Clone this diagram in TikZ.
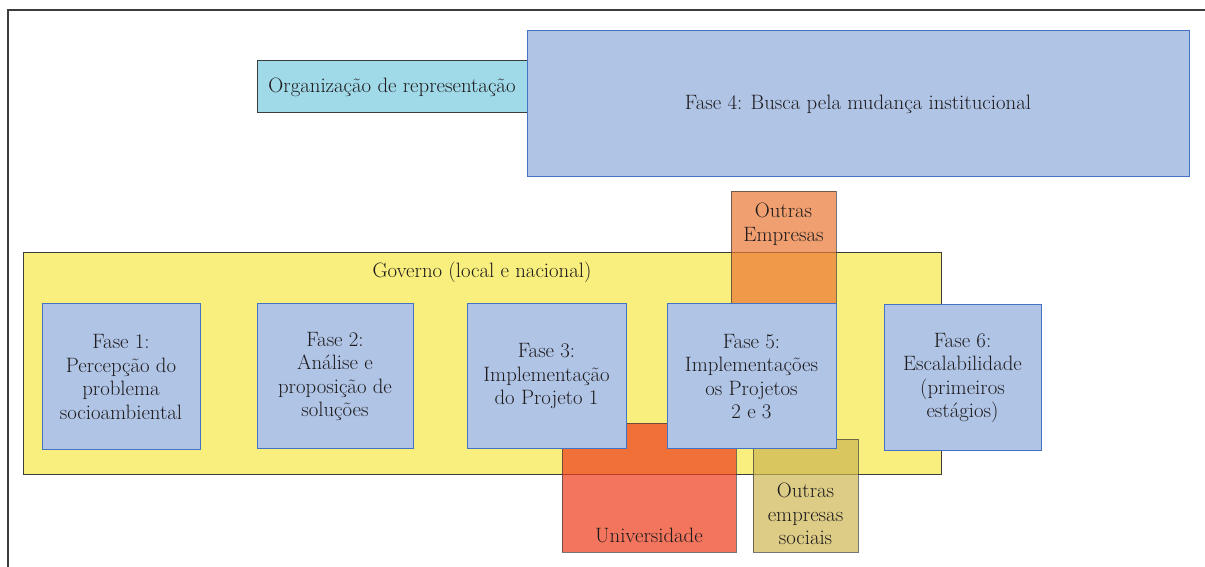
\documentclass[tikz,border=0pt]{standalone}
\definecolor{frameline}{RGB}{60,60,60}
\definecolor{inktext}{RGB}{30,27,28}
\definecolor{phasefill}{RGB}{176,196,230}
\definecolor{phaseline}{RGB}{68,114,196}
\definecolor{govfill}{RGB}{249,239,126}
\definecolor{repfill}{RGB}{160,218,232}
\definecolor{empfill}{RGB}{234,119,51}
\definecolor{unifill}{RGB}{238,59,25}
\definecolor{socfill}{RGB}{205,182,82}
\tikzset{
  base/.style={rectangle, inner sep=0pt, outer sep=0pt, line width=0.9pt,
    text=inktext, align=center, font=\fontsize{20.8}{23.5}\selectfont},
  phase/.style={base, fill=phasefill, draw=phaseline},
  govbox/.style={base, fill=govfill, draw=frameline},
  repbox/.style={base, fill=repfill, draw=frameline},
  actor/.style={base, draw=frameline, fill opacity=0.7, draw opacity=0.7},
  label/.style={base, draw=none, fill=none},
  frame/.style={line width=1.3pt, draw=frameline}
}
\begin{document}
\begin{tikzpicture}[x=1pt, y=-1pt]
\useasboundingbox (0,0) rectangle (1205,567);

% outer frame: top and left edges
\coordinate (fTL) at (8,10);
\coordinate (fTR) at (1205,10);
\coordinate (fBL) at (8,567);
\draw[frame] (fTR) -- (fTL) -- (fBL);

% representation body and phase 4
\node[repbox, minimum width=270, minimum height=52] (rep) at (392,86) {};
\node[label] (rept) at (392,87) {Organização de representação};
\node[phase, minimum width=662, minimum height=146] (f4) at (858,103) {};
\node[label] (f4t) at (858,104) {Fase 4: Busca pela mudança institucional};

% government frame
\node[govbox, minimum width=918, minimum height=222] (gov) at (482,363) {};
\node[label] (govt) at (482,272) {Governo (local e nacional)};

% other actors (translucent)
\node[actor, fill=empfill, minimum width=105, minimum height=129] (emp) at (783.5,255.5) {};
\node[label] (empt) at (783.5,224.5) {Outras\\Empresas};
\node[actor, fill=unifill, minimum width=174, minimum height=129] (uni) at (649,487.5) {};
\node[label] (unit) at (649,535) {Universidade};
\node[actor, fill=socfill, minimum width=105, minimum height=113] (soc) at (805.5,495.5) {};
\node[label] (soct) at (805.5,514) {Outras\\empresas\\sociais};

% phases inside government
\node[phase, minimum width=158, minimum height=146] (f1) at (121,376) {};
\node[label] at (f1.center) [yshift=-1pt]
  {Fase 1:\\Percepção do\\problema\\socioambiental};
\node[phase, minimum width=156, minimum height=145] (f2) at (335,375.5) {};
\node[label] at (f2.center) [yshift=-1pt]
  {Fase 2:\\Análise e\\proposição de\\soluções};
\node[phase, minimum width=159, minimum height=145] (f3) at (546.5,375.5) {};
\node[label] at (f3.center) [yshift=-1pt]
  {Fase 3:\\Implementação\\do Projeto 1};
\node[phase, minimum width=169, minimum height=145] (f5) at (751.5,375.5) {};
\node[label] at (f5.center) [yshift=-1pt]
  {Fase 5:\\Implementações\\os Projetos\\2 e 3};
\node[phase, minimum width=157, minimum height=146] (f6) at (962.5,377) {};
\node[label] at (f6.center) [yshift=-1pt]
  {Fase 6:\\Escalabilidade\\(primeiros\\estágios)};
\end{tikzpicture}
\end{document}
